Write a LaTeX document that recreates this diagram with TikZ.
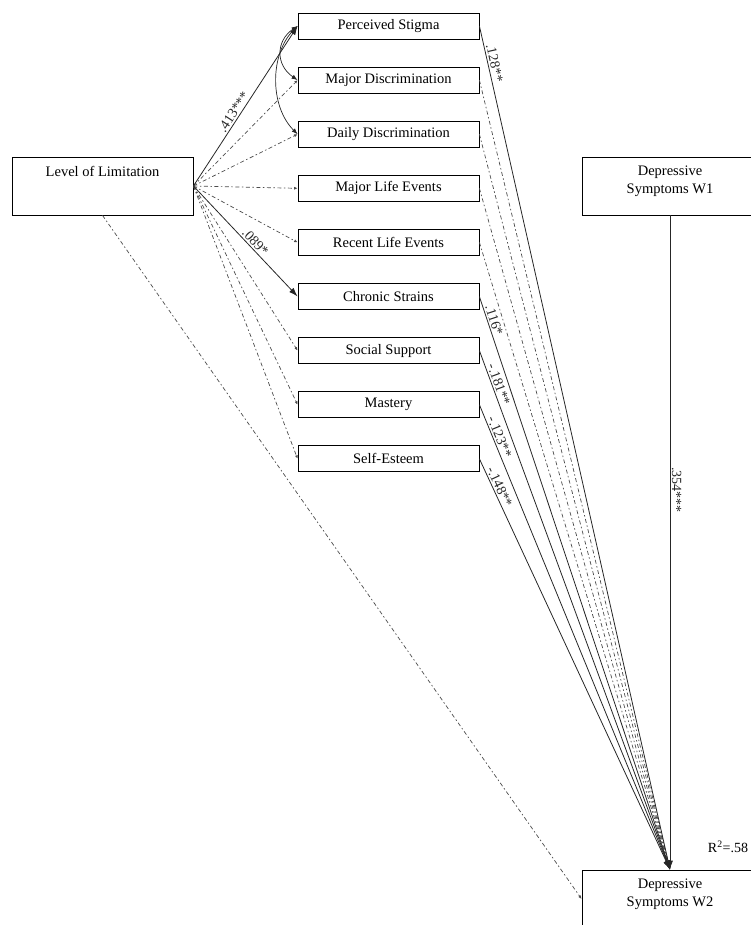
\documentclass[tikz,border=0pt]{standalone}
\usepackage{fontspec}
\setmainfont{Liberation Serif}
\usetikzlibrary{arrows.meta}

\tikzset{
  varbox/.style={draw, line width=.8pt, minimum width=181pt, minimum height=26pt, inner sep=0pt, font=\fontsize{14.5}{17}\selectfont},
  bigbox/.style={draw, line width=.8pt, minimum width=176pt, minimum height=58pt, inner sep=0pt, align=center, font=\fontsize{14.5}{18}\selectfont},
  sig/.style={line width=.8pt, black!85, -{Latex[length=9pt,width=6pt]}},
  nsig/.style={line width=.7pt, black!70, dash pattern=on 4pt off 2.5pt on 1.5pt off 2.5pt, -{Latex[length=3.5pt,width=3pt]}},
  covar/.style={line width=.7pt, black!85, {Latex[length=6pt,width=4.5pt]}-{Latex[length=6pt,width=4.5pt]}},
  coef/.style={font=\fontsize{14}{16}\selectfont, sloped, above, inner sep=1.5pt}
}

\begin{document}
\begin{tikzpicture}[x=1pt,y=-1pt]
    \clip (0,0) rectangle (751,925);
    \useasboundingbox (0,0) rectangle (751,925);

    \node[bigbox, minimum width=181pt] (lol) at (102.5,186) {Level of Limitation\\[12pt]\mbox{}};
    \node[bigbox] (w1) at (670,186) {Depressive\\Symptoms W1\\[-6pt]\mbox{}};
    \node[bigbox] (w2) at (670,899) {Depressive\\Symptoms W2\\[-6pt]\mbox{}};
    \node[font=\fontsize{14}{16}\selectfont] (rsq) at (728,847) {R\textsuperscript{2}=.58};

    \foreach \i/\t in {1/Perceived Stigma,2/Major Discrimination,3/Daily Discrimination,
                      4/Major Life Events,5/Recent Life Events,6/Chronic Strains,
                      7/Social Support,8/Mastery,9/Self-Esteem} {
        \node[varbox] (v\i) at (388.5,{26+54.1*(\i-1)}) {\t};}

    % paths from level of limitation
    \foreach \i in {2,3,4,5,7,8,9} {
        \draw[nsig] (lol.east) -- (v\i.west);}
    \draw[sig] (lol.east) -- (v1.west) node[coef, pos=.44] {.413***};
    \draw[sig] (lol.east) -- (v6.west) node[coef, pos=.55] {.089*};
    \draw[nsig] (lol.south) -- (w2.west);

    \draw[covar] (v1.west) .. controls +(-22,15) and +(-22,-15) .. (v2.west);
    \draw[covar] (v1.west) .. controls +(-28,28) and +(-28,-28) .. (v3.west);

    % paths to depressive symptoms w2
    \foreach \i in {2,3,4,5} {
        \draw[nsig] (v\i.east) -- (w2.north);}
    \draw[sig] (v1.east) -- (w2.north) node[coef, pos=.046] {.128**};
    \draw[sig] (v6.east) -- (w2.north) node[coef, pos=.045] {.116*};
    \draw[sig] (v7.east) -- (w2.north) node[coef, pos=.07] {-.181**};
    \draw[sig] (v8.east) -- (w2.north) node[coef, pos=.075] {-.123**};
    \draw[sig] (v9.east) -- (w2.north) node[coef, pos=.075] {-.148**};
    \draw[sig] (w1) -- (w2) node[coef, pos=.42] {.354***};
\end{tikzpicture}
\end{document}
